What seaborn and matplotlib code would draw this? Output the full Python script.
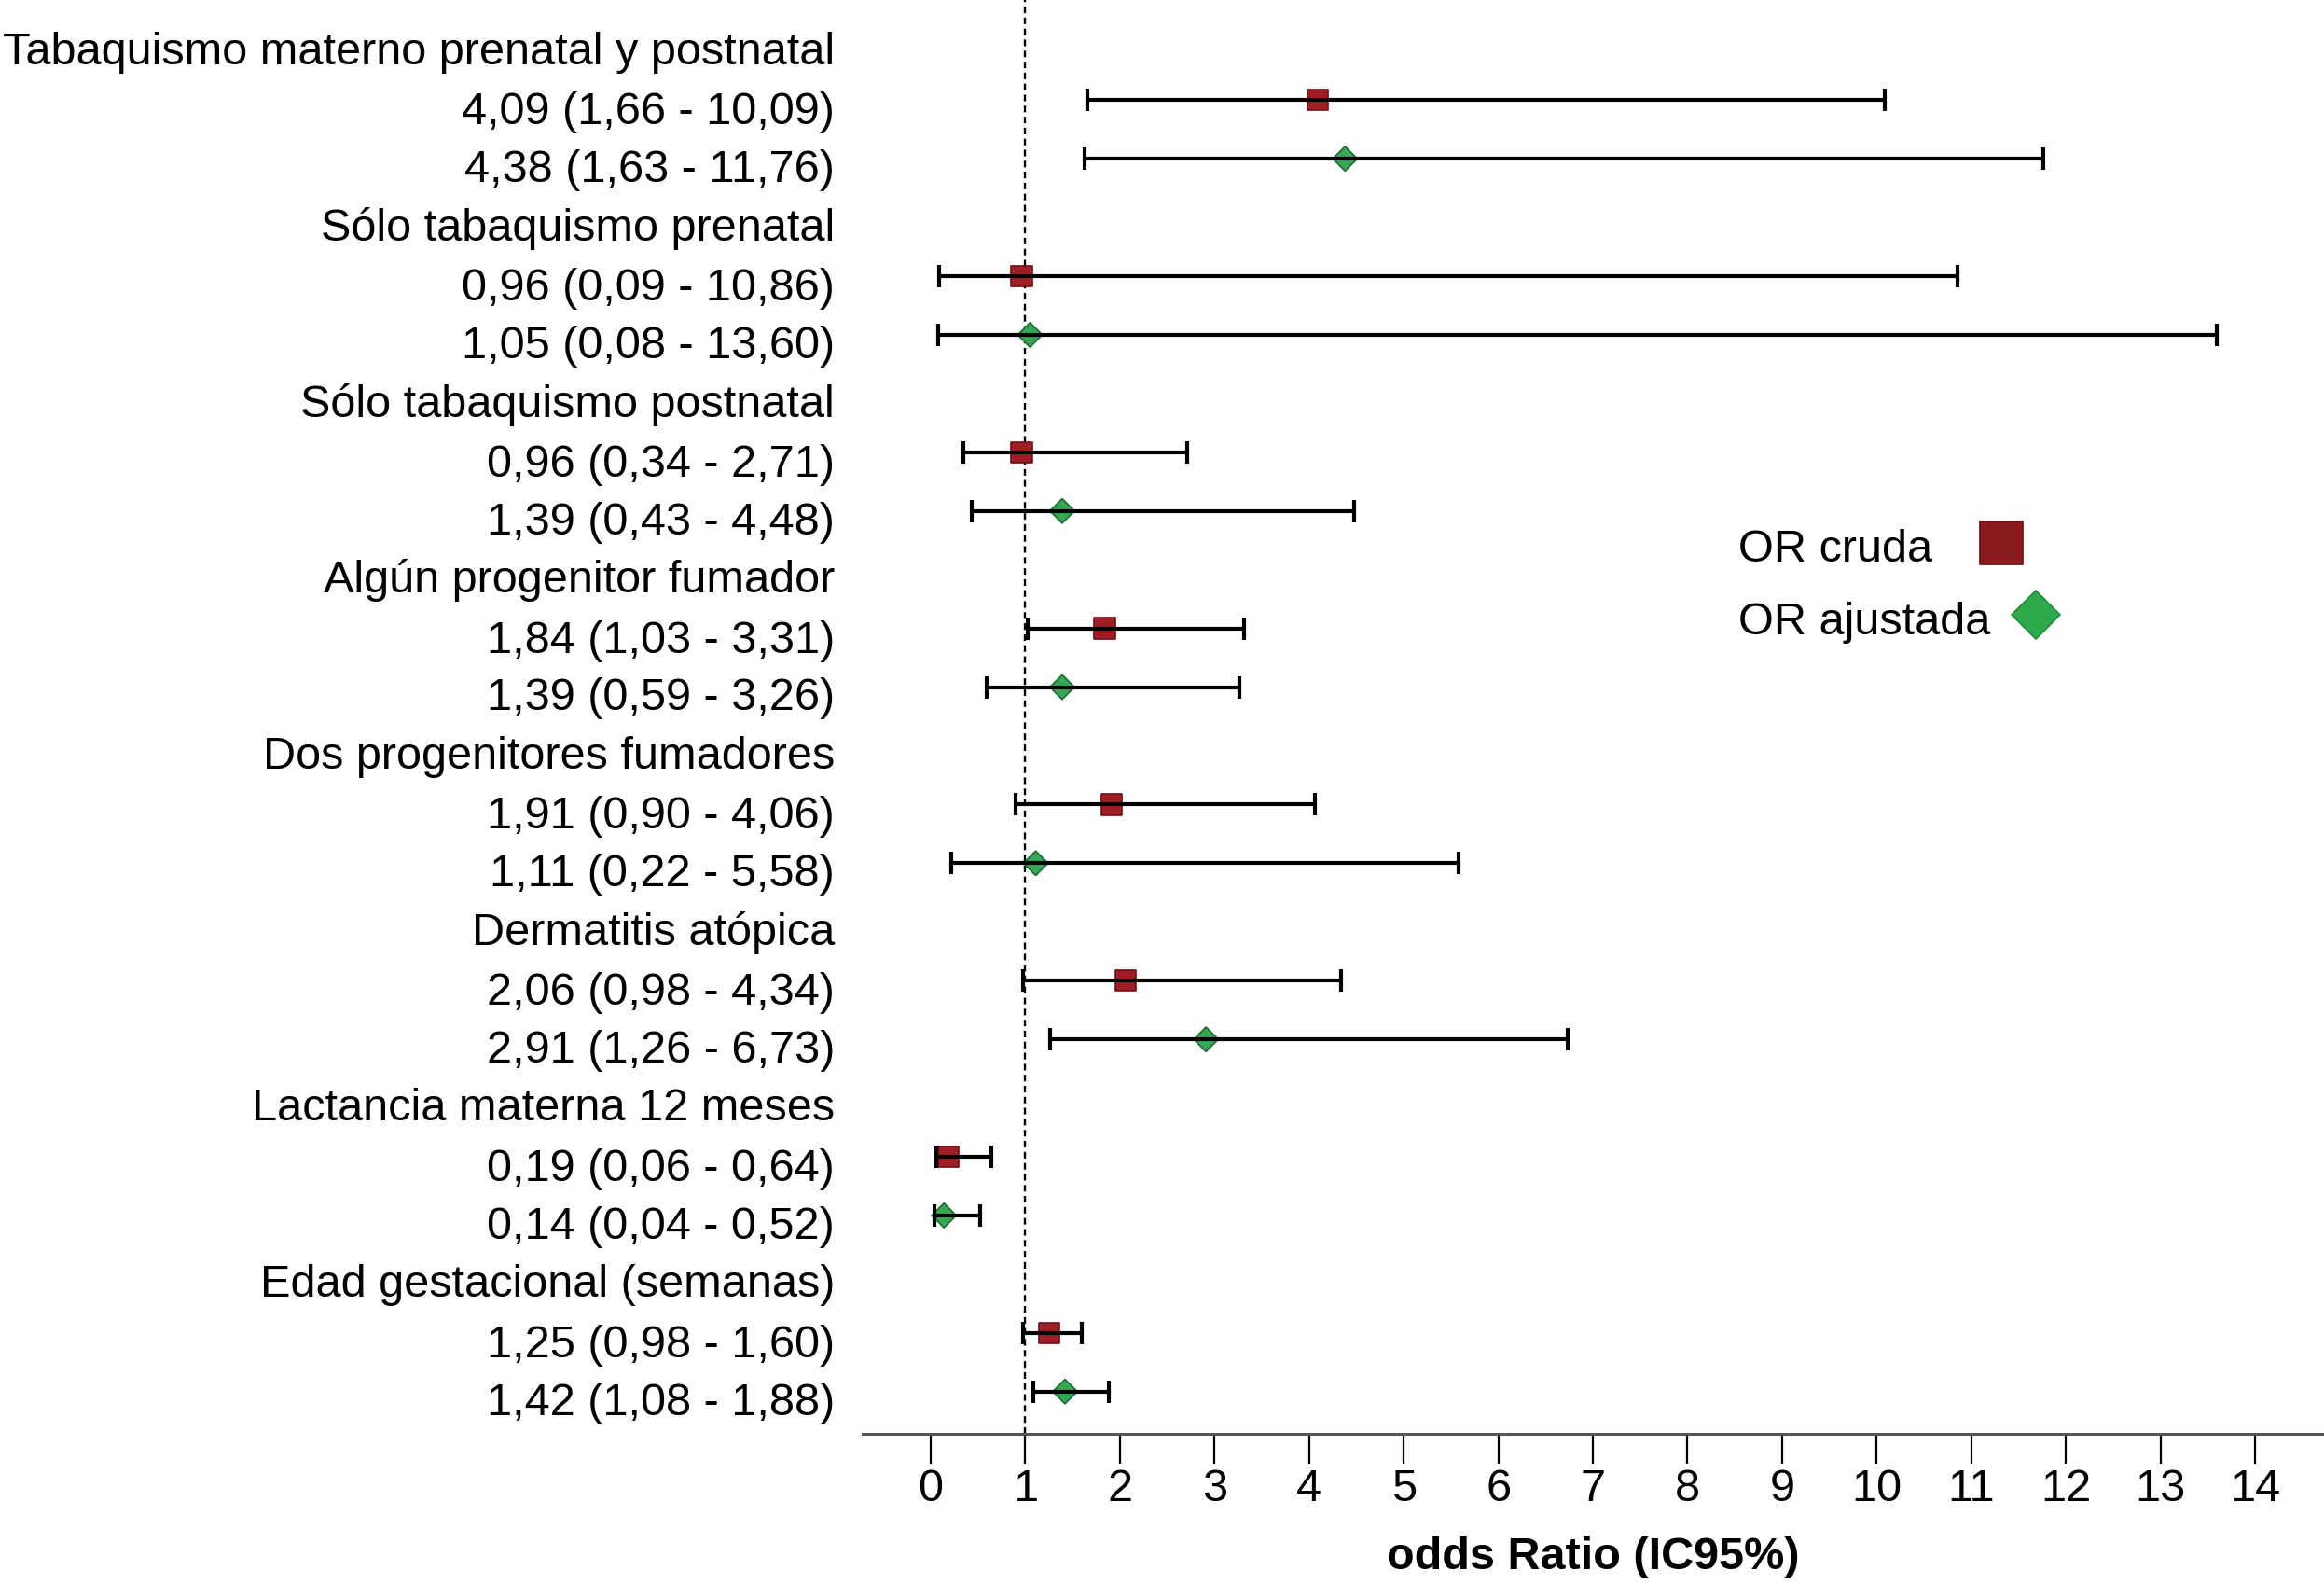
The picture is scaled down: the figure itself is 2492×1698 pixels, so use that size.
import numpy as np
import pandas as pd
import matplotlib
matplotlib.use("Agg")
import matplotlib.pyplot as plt
import matplotlib.transforms as mtransforms
import seaborn as sns

# ---- data ----
groups = [
    "Tabaquismo materno prenatal y postnatal",
    "Sólo tabaquismo prenatal",
    "Sólo tabaquismo postnatal",
    "Algún progenitor fumador",
    "Dos progenitores fumadores",
    "Dermatitis atópica",
    "Lactancia materna 12 meses",
    "Edad gestacional (semanas)",
]
crude_or = [4.09, 0.96, 0.96, 1.84, 1.91, 2.06, 0.19, 1.25]
crude_lo = [1.66, 0.09, 0.34, 1.03, 0.90, 0.98, 0.06, 0.98]
crude_hi = [10.09, 10.86, 2.71, 3.31, 4.06, 4.34, 0.64, 1.60]
adj_or = [4.38, 1.05, 1.39, 1.39, 1.11, 2.91, 0.14, 1.42]
adj_lo = [1.63, 0.08, 0.43, 0.59, 0.22, 1.26, 0.04, 1.08]
adj_hi = [11.76, 13.60, 4.48, 3.26, 5.58, 6.73, 0.52, 1.88]
series_names = ["OR cruda", "OR ajustada"]
xticks = list(range(0, 15))
xlabel = "odds Ratio (IC95%)"

def fmt(v):
    return f"{v:.2f}".replace(".", ",")

rows = []
for i, g in enumerate(groups):
    rows.append(dict(row=3 * i + 1, OR=crude_or[i], lo=crude_lo[i], hi=crude_hi[i], measure=series_names[0]))
    rows.append(dict(row=3 * i + 2, OR=adj_or[i], lo=adj_lo[i], hi=adj_hi[i], measure=series_names[1]))
df = pd.DataFrame(rows)

# ---- style ----
sns.set_style("white")
plt.rcParams["font.family"] = ["Liberation Sans", "DejaVu Sans"]
plt.rcParams["text.color"] = "black"
plt.rcParams["axes.labelcolor"] = "black"
plt.rcParams["xtick.color"] = "black"

FS = 35
W, H = 2492, 1699
fig = plt.figure(figsize=(W / 100, H / 100), dpi=100)
ax_left, ax_bottom_px = 925, 1538
ax = fig.add_axes([ax_left / W, 1 - ax_bottom_px / H, 1 - ax_left / W, ax_bottom_px / H])

red_face, red_edge = "#a11e26", "#6e1016"
green_face, green_edge = "#34a853", "#1e6b32"

ax.axvline(1, color="black", lw=1.7, ls=(0, (3, 2)), zorder=1)

sns.scatterplot(data=df, x="OR", y="row", hue="measure", style="measure",
                hue_order=series_names, style_order=series_names,
                palette={series_names[0]: red_face, series_names[1]: green_face},
                markers={series_names[0]: "s", series_names[1]: "D"},
                s=260, linewidth=1.2, legend=False, ax=ax, zorder=2)
coll = ax.collections[-1]
coll.set_edgecolors([red_edge if m == series_names[0] else green_edge for m in df["measure"]])
coll.set_sizes([260 if m == series_names[0] else 180 for m in df["measure"]])

ax.errorbar(df["OR"], df["row"], xerr=[df["OR"] - df["lo"], df["hi"] - df["OR"]],
            fmt="none", ecolor="black", elinewidth=3.0, capsize=8.3, capthick=3.0, zorder=3)

# y labels as text
trans = mtransforms.blended_transform_factory(ax.transAxes, ax.transData)
tx = (895 - ax_left) / (W - ax_left)
for i, g in enumerate(groups):
    ax.text(tx, 3 * i + 0.17, g, ha="right", va="center", fontsize=FS, transform=trans)
    ax.text(tx, 3 * i + 1 + 0.2, f"{fmt(crude_or[i])} ({fmt(crude_lo[i])} - {fmt(crude_hi[i])})",
            ha="right", va="center", fontsize=FS, transform=trans)
    ax.text(tx, 3 * i + 2 + 0.18, f"{fmt(adj_or[i])} ({fmt(adj_lo[i])} - {fmt(adj_hi[i])})",
            ha="right", va="center", fontsize=FS, transform=trans)

ax.set_ylim(23.72, -0.72)
ax.set_xlim(-0.72, 14.73)
ax.set_yticks([])
ax.set_ylabel("")
ax.set_xticks(xticks)
ax.set_xticklabels([str(t) for t in xticks])
ax.tick_params(axis="x", direction="out", length=23, width=1.6, labelsize=FS, pad=3,
               color="black", bottom=True)
for s in ["top", "right", "left"]:
    ax.spines[s].set_visible(False)
ax.spines["bottom"].set_color("#555555")
ax.spines["bottom"].set_linewidth(2.2)
ax.set_xlabel(xlabel, fontsize=FS, fontweight="bold", labelpad=20)

# legend (manual, placed in axes coordinates)
def ax_xy(px, py):
    return (px - ax_left) / (W - ax_left), 1 - py / ax_bottom_px

lx, ly1 = ax_xy(1864, 589)
_, ly2 = ax_xy(1864, 668)
ax.text(lx, ly1, series_names[0], transform=ax.transAxes, fontsize=FS, ha="left", va="center")
ax.text(lx, ly2, series_names[1], transform=ax.transAxes, fontsize=FS, ha="left", va="center")
mx1, my1 = ax_xy(2146, 583)
mx2, my2 = ax_xy(2183, 660)
ax.plot([mx1], [my1], marker="s", ls="", ms=33, mfc="#8B1A1F", mec="#6b0f14", mew=1.2,
        transform=ax.transAxes, clip_on=False)
ax.plot([mx2], [my2], marker="D", ls="", ms=26, mfc="#2EAA4A", mec="#1f8a3a", mew=1.2,
        transform=ax.transAxes, clip_on=False)

fig.savefig("out.png", dpi=100)
